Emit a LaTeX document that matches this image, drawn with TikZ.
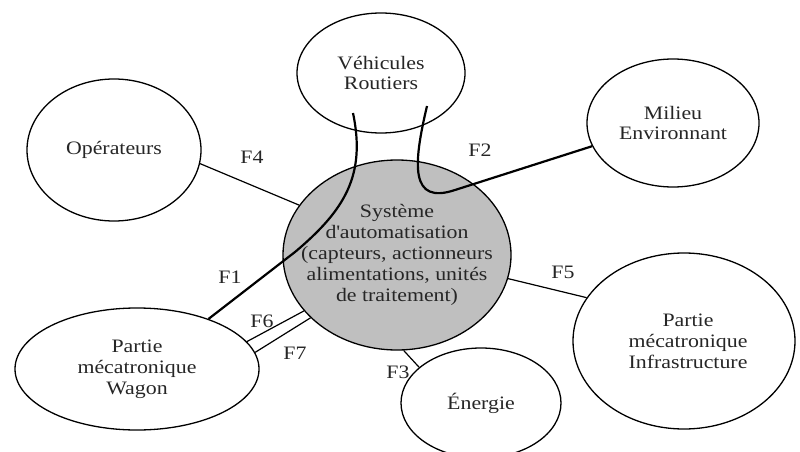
\documentclass[tikz,border=0pt]{standalone}
\usepackage{fontspec}
\setmainfont[FakeStretch=1.15]{Liberation Serif}
\usetikzlibrary{shapes.geometric}
\begin{document}
\begin{tikzpicture}[x=1pt,y=-1pt,
  ell/.style={ellipse,draw,line width=1.3pt,inner sep=0pt},
  txt/.style={align=center,inner sep=0pt,
    font=\fontsize{19}{20.8}\selectfont,text=black!85},
  thin/.style={line width=1.2pt},
  thick/.style={line width=2.2pt},
  lab/.style={font=\fontsize{19}{20.8}\selectfont,text=black!85,inner sep=0pt}]
\useasboundingbox (0,0) rectangle (800,452);
\node[ell,fill=black!25,minimum width=228pt,minimum height=190pt] (sys) at (397,255) {};
\node[txt] (syst) at (sys) {Système\\d\textquotesingle automatisation\\(capteurs, actionneurs\\alimentations, unités\\de traitement)};
\node[ell,minimum width=168pt,minimum height=120pt] (veh) at (381,73) {};
\node[txt] (veht) at (veh) {Véhicules\\Routiers};
\node[ell,minimum width=172pt,minimum height=128pt] (mil) at (673,123) {};
\node[txt] (milt) at (mil) {Milieu\\Environnant};
\node[ell,minimum width=174pt,minimum height=142pt] (op) at (114,150) {};
\node[txt] (opt) at (op) {Opérateurs};
\node[ell,minimum width=244pt,minimum height=122pt] (wag) at (137,369) {};
\node[txt] (wagt) at (wag) {Partie\\mécatronique\\Wagon};
\node[ell,minimum width=222pt,minimum height=176pt] (inf) at (684,341) {};
\node[txt] (inft) at ([xshift=4pt]inf) {Partie\\mécatronique\\Infrastructure};
\node[ell,minimum width=160pt,minimum height=110pt] (ene) at (481,403) {};
\node[txt] (enet) at (ene) {Énergie};
\coordinate (v1) at (353,113);
\coordinate (v2) at (427,106);
% connectors
\draw[thin] (op.-9) -- (sys.153);
\draw[thin] (sys.-12) -- (inf.156);
\draw[thin] (sys.-86) -- (ene.150);
\draw[thin] (wag.14.7) -- (sys.211);
\draw[thin] (wag.8.9) -- (sys.216.5);
\draw[thick] (v1) .. controls (366,175) and (345,210) .. (295,252) -- (wag.35);
\draw[thick] (v2) .. controls (413,165) and (410,205) .. (455,190) -- (mil.196);
% labels
\node[lab] (f4) at (252,157) {F4};
\node[lab] (f2) at (480,150) {F2};
\node[lab] (f1) at (230,277) {F1};
\node[lab] (f5) at (563,272) {F5};
\node[lab] (f6) at (262,321) {F6};
\node[lab] (f7) at (295,353) {F7};
\node[lab] (f3) at (398,372) {F3};
\end{tikzpicture}
\end{document}
